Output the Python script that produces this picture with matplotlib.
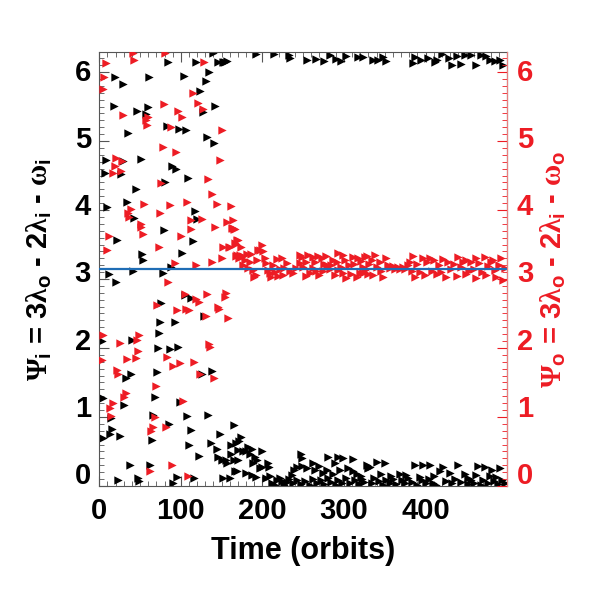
import numpy as np
import matplotlib
matplotlib.use("Agg")
import matplotlib.pyplot as plt
from matplotlib.ticker import MultipleLocator
from matplotlib.transforms import ScaledTranslation

# 字体设置: 数字用无衬线粗体, 希腊字母用衬线体
plt.rcParams['font.family'] = ['Liberation Sans', 'DejaVu Sans']
plt.rcParams['font.weight'] = 'bold'
plt.rcParams['mathtext.fontset'] = 'custom'
plt.rcParams['mathtext.rm'] = 'Liberation Serif'
plt.rcParams['mathtext.sf'] = 'Liberation Sans:bold'
plt.rcParams['mathtext.it'] = 'Liberation Serif:italic'
plt.rcParams['mathtext.bf'] = 'Liberation Sans:bold'

# Psi_i (black) points: (time in orbits, angle)
psi_i_points = np.array([
    (3, 2.10), (4.2, 1.28), (5, 0.70), (7, 4.54), (8.2, 4.72), (10, 4.04), (11.9, 3.07), (12.6, 0.76),
    (14.3, 0.99), (16, 0.82), (17.6, 5.51), (19.2, 5.93), (20.5, 2.95), (22.3, 3.57), (23.4, 0.09),
    (25.4, 0.73), (26.6, 4.52), (28.7, 4.71), (29.5, 5.83), (30.6, 1.17), (32.4, 1.57), (33.6, 4.12),
    (35.5, 5.12), (37.6, 0.31), (38.8, 1.63), (40.3, 2.12), (41, 3.12), (43, 3.88), (44.6, 4.31),
    (45.8, 5.44), (48, 0.11), (49, 0.07), (50.7, 4.74), (52, 3.36), (53, 3.27), (56.8, 5.39), (60, 5.49),
    (61.4, 5.93), (62, 0.31), (64.2, 0.67), (66.4, 1.03), (68.3, 1.29), (70.3, 1.65), (71.6, 2.0),
    (73, 2.22), (74.4, 2.38), (75.6, 2.65), (77.7, 3.09), (79.5, 3.71), (80.5, 4.41), (82.6, 5.22),
    (83.8, 6.14), (85, 0.9), (86.3, 1.98), (88, 3.18), (89.5, 4.64), (90.7, 0.05), (92.8, 2.38),
    (94, 4.6), (95.8, 0.13), (97, 2.02), (98, 5.18), (98.9, 1.21), (101, 3.37), (104, 5.94),
    (104.5, 2.77), (106, 5.16), (107, 1.02), (109, 4.47), (110.4, 0.60), (112, 2.73), (113, 0.81),
    (114.5, 3.55), (116.4, 0.11), (117.8, 3.99), (119, 6.15), (120, 3.87), (122, 0.44), (124, 5.72),
    (125.5, 1.63), (127.5, 5.42), (128.3, 2.47), (130.4, 5.87), (131.6, 5.06), (132.8, 1.03), (135, 6.0),
    (136.5, 0.63), (137.7, 1.66), (139, 6.27), (140.6, 4.97), (141.8, 5.51), (143.9, 0.54), (146, 6.15),
    (146, 0.42), (148, 0.76), (150, 0.38), (151.4, 6.14), (152, 0.12), (152.8, 6.15), (154, 6.15),
    (155, 0.37), (156, 6.16), (157, 0.33), (160, 0.12), (161.4, 0.60), (162, 0.46), (164.6, 0.88),
    (165, 0.37), (166, 0.22), (167.5, 0.63), (169, 0.22), (169.6, 0.37), (169.6, 0.52), (170.7, 0.65),
    (173.3, 0.71), (176.5, 0.50), (179.8, 0.51), (180, 0.19), (182.7, 0.57), (184.7, 0.47), (186.8, 0.53),
    (186.8, 0.16), (188.7, 0.33), (190.8, 0.42), (192, 0.13), (193.7, 0.37), (197, 0.26), (200, 0.51),
    (200, 0.28), (205, 0.11), (207, 0.33), (208.5, 0.28), (209, 0.14), (212, 0.05), (215, 0.02),
    (218, 0.08), (221, 0.12), (224, 0.07), (227, 0.02), (230, 0.06), (233, 0.10), (235.7, 0.16),
    (238.6, 0.23), (241.9, 0.28), (246.8, 0.46), (248, 0.40), (249, 0.29), (255, 0.26), (261.5, 0.33),
    (264, 0.23), (270, 0.29), (274.5, 0.19), (278.7, 0.23), (281, 0.42), (286.8, 0.18), (289, 0.33),
    (293, 0.42), (295, 0.23), (299, 0.40), (305, 0.26), (310.5, 0.39), (311.4, 0.21), (315.5, 0.18),
    (321, 0.15), (327.7, 0.30), (329.7, 0.26), (332, 0.27), (340, 0.35), (346, 0.18), (350, 0.34),
    (358, 0.14), (368.5, 0.17), (376, 0.16), (387, 0.31), (393, 0.13), (397, 0.30), (405, 0.30),
    (411, 0.15), (417.5, 0.22), (421.6, 0.28), (429.8, 0.19), (440, 0.31), (448, 0.17), (452, 0.12),
    (462, 0.16), (464.5, 0.29), (472.7, 0.28), (479, 0.14), (481, 0.23), (487, 0.13), (491, 0.26),
    (238, 0.05), (243, 0.09), (247, 0.03), (252, 0.07), (258, 0.02), (262, 0.10), (267, 0.05),
    (272, 0.08), (276, 0.03), (281, 0.11), (284, 0.06), (290, 0.02), (293, 0.09), (298, 0.05),
    (302, 0.12), (307, 0.04), (313, 0.08), (318, 0.03), (322, 0.10), (325, 0.06), (334, 0.04),
    (337, 0.11), (343, 0.07), (348, 0.02), (352, 0.09), (356, 0.05), (360, 0.10), (364, 0.03),
    (371, 0.08), (375, 0.04), (379, 0.11), (383, 0.06), (389, 0.02), (396, 0.08), (400, 0.04),
    (404, 0.10), (409, 0.05), (413, 0.02), (425, 0.07), (433, 0.04), (436, 0.10), (444, 0.06),
    (452, 0.03), (456, 0.09), (460, 0.05), (468, 0.02), (471, 0.08), (476, 0.04), (484, 0.07),
    (489, 0.03), (494, 0.09), (498, 0.04),
    (192, 6.26), (214, 6.26), (232, 6.25), (234, 6.21), (255, 6.17), (266, 6.19), (276, 6.16),
    (283, 6.24), (290, 6.19), (296, 6.16), (303, 6.23), (317.5, 6.22), (323.6, 6.22), (335, 6.17),
    (342, 6.17), (348, 6.22), (352, 6.16), (385, 6.13), (387, 6.22), (395, 6.17), (403, 6.2),
    (411.4, 6.15), (414, 6.17), (419.6, 6.26), (429, 6.21), (433, 6.1), (439, 6.23), (444, 6.11),
    (449, 6.25), (456, 6.24), (461.6, 6.1), (468.5, 6.24), (474.7, 6.23), (479, 6.17), (485, 6.16),
    (491, 6.17), (495, 6.1),
])

# Psi_o (red) points: (time in orbits, angle)
psi_o_points = np.array([
    (3.7, 1.82), (4.2, 2.19), (5, 5.75), (6.2, 5.93), (8.2, 6.13), (10, 3.42), (11.5, 3.63), (13.1, 1.13),
    (14.3, 1.02), (16.3, 1.20), (17, 4.54), (19, 4.64), (20.5, 4.76), (22.3, 1.68), (23.4, 1.62),
    (25.4, 2.07), (26.6, 4.57), (28, 4.71), (29.5, 5.38), (30.6, 1.29), (32.4, 1.35), (34.4, 1.84),
    (34.8, 3.95), (36.8, 3.90), (38.4, 4.02), (41, 6.27), (43, 6.17), (45, 1.85), (45.8, 2.12),
    (48, 1.96), (49, 2.19), (50.7, 3.79), (51.5, 3.76), (53, 3.65), (55, 4.08), (57, 5.30), (59, 5.23),
    (60, 5.35), (62, 0.22), (63.5, 0.79), (65.7, 0.85), (68.3, 1.0), (69.5, 1.45), (71.3, 2.62),
    (73, 3.47), (74.4, 3.95), (75.6, 4.39), (77.7, 4.91), (79, 5.53), (80.5, 6.27), (81.7, 0.86),
    (83.3, 1.87), (84.8, 2.95), (86.6, 4.07), (88, 5.2), (89.7, 0.30), (90.7, 1.74), (92.4, 3.23),
    (94, 4.84), (95.6, 2.55), (97, 5.44), (98.4, 1.78), (99.8, 3.62), (102, 5.35), (103, 1.23),
    (104.5, 2.78), (106.3, 2.56), (107, 4.11), (109.3, 0.14), (110.3, 2.55), (112, 3.72), (113, 3.86),
    (114.5, 5.7), (116.4, 1.80), (118.5, 2.71), (118.5, 3.2), (121, 5.55), (122.7, 2.66), (123.4, 1.62),
    (125.5, 3.87), (127, 5.46), (128.7, 6.15), (130.8, 2.47), (131.6, 2.78), (133, 4.45), (134.4, 2.06),
    (135.6, 2.01), (137.7, 4.23), (138.6, 3.25), (140.6, 1.57), (142, 3.76), (144, 4.09), (145, 2.6),
    (146.3, 2.57), (148, 4.72), (150, 5.16), (151, 3.31), (152, 3.47), (154, 2.74), (155.3, 2.79),
    (157, 3.82), (158, 2.44), (159, 3.46), (160, 3.46), (161, 4.06), (162.3, 3.74), (163.5, 3.74),
    (164, 3.86), (165, 3.73), (166.3, 3.52), (166, 3.72), (167.5, 3.51), (168, 3.33), (168.3, 3.57),
    (169.2, 3.35), (170.5, 3.56), (171.6, 3.30), (172.7, 3.35), (173.4, 3.46), (175.7, 3.33),
    (176.5, 3.20), (178.6, 3.28), (180.6, 3.36), (182.6, 3.16), (184.7, 3.24), (185.7, 3.36),
    (188.8, 3.13), (190, 3.03), (192, 3.06), (192.9, 3.28), (195, 3.42), (197, 3.42), (199, 3.49),
    (201, 3.40), (203, 3.30), (205, 3.23), (207, 3.13), (209, 3.08), (211, 3.03), (212.5, 3.20),
    (215, 3.10), (217.4, 3.29), (219, 3.05), (221, 3.15), (223.5, 3.30), (225, 3.06), (227, 3.16),
    (229.6, 3.23), (233.7, 3.12), (237.8, 3.08), (241, 3.16), (246, 3.23), (246, 3.35), (248, 3.32),
    (250, 3.18), (253, 3.25), (254, 3.04), (256.5, 3.35), (258, 3.09), (261.5, 3.32), (262, 3.16),
    (264, 3.24), (266, 3.11), (268.5, 3.33), (270, 3.06), (272.5, 3.30), (274.5, 3.12), (276, 3.22),
    (278, 3.33), (278.7, 3.20), (282.7, 3.14), (284, 3.20), (286.8, 3.28), (289, 3.06), (291, 3.24),
    (293, 3.38), (293, 3.13), (296, 3.18), (299, 3.35), (299, 3.08), (301, 3.27), (303, 3.02),
    (306, 3.20), (309, 3.07), (310.5, 3.32), (312, 3.22), (315.5, 3.03), (317.5, 3.30), (319.5, 3.09),
    (321, 3.26), (323, 3.18), (323.8, 3.08), (325.6, 3.13), (325.6, 3.32), (327.7, 3.33), (329.7, 3.07),
    (331, 3.22), (334, 3.27), (336, 3.06), (338, 3.35), (341, 3.18), (344, 3.24), (346, 3.12),
    (348, 3.03), (351.4, 3.31), (354, 3.20), (357, 3.16), (360, 3.19), (363, 3.14), (366, 3.17),
    (369, 3.15), (372, 3.18), (375, 3.14), (378, 3.20), (381, 3.24), (383, 3.12), (385, 3.33),
    (387, 3.03), (390, 3.22), (393, 3.10), (397, 3.30), (399, 3.06), (402, 3.24), (405.3, 3.31),
    (408, 3.12), (410, 3.27), (413.5, 3.07), (416, 3.21), (419, 3.10), (421.6, 3.29), (425.7, 3.03),
    (428, 3.25), (431, 3.14), (435, 3.22), (438, 3.04), (440, 3.32), (443, 3.17), (446, 3.25),
    (450, 3.28), (450, 3.07), (453, 3.12), (456, 3.24), (459, 3.15), (462.3, 3.31), (462.3, 3.02),
    (466, 3.23), (469, 3.10), (472.7, 3.32), (474.7, 3.06), (477, 3.19), (480, 3.25), (482.8, 3.28),
    (485, 3.13), (487, 3.03), (490, 3.21), (493, 3.30), (495, 2.99), (497, 3.16),
])

x_ticks = [0, 100, 200, 300, 400]
y_ticks = [0, 1, 2, 3, 4, 5, 6]
red = '#ED1C24'
blue = '#1F6DB5'

fig = plt.figure(figsize=(5.91, 5.91), dpi=100)
ax = fig.add_axes([0.168, 0.1777, 0.690, 0.7335])
ax2 = ax.twinx()

# 绘制散点
ax.scatter(psi_i_points[:, 0], psi_i_points[:, 1], marker='>', s=36, color='black', linewidths=0, zorder=2)
ax.scatter(psi_o_points[:, 0], psi_o_points[:, 1], marker='>', s=36, color=red, linewidths=0, zorder=3)
ax.axhline(np.pi, color=blue, linewidth=1.6, zorder=4)

for a in (ax, ax2):
    a.set_xlim(0, 500)
    a.set_ylim(0, 2 * np.pi)
    a.yaxis.set_minor_locator(MultipleLocator(0.1))

ax.set_xticks(x_ticks)
ax.xaxis.set_minor_locator(MultipleLocator(10))
ax.set_yticks(y_ticks)
ax2.set_yticks(y_ticks)

ax.tick_params(axis='both', which='major', direction='in', length=7, width=0.8, labelsize=21, pad=8, top=True)
ax.tick_params(axis='both', which='minor', direction='in', length=3.5, width=0.6, top=True)
ax.tick_params(axis='y', which='both', right=False, color='#555555', pad=6)
ax.tick_params(axis='x', which='both', color='#555555')
ax2.tick_params(axis='y', which='major', direction='in', length=7, width=0.8, labelsize=21, pad=7,
                colors=red)
ax2.tick_params(axis='y', which='minor', direction='in', length=3.5, width=0.6, colors=red)

for name in ('left', 'top', 'bottom'):
    ax.spines[name].set_color('#555555')
    ax2.spines[name].set_visible(False)
ax2.spines['right'].set_color('#E88080')

# 刻度数字整体略微上移 (与原图对齐)
for tick_list in (ax.yaxis.get_major_ticks(), ax2.yaxis.get_major_ticks()):
    for value, tick in zip(y_ticks, tick_list):
        dy = (2 + (6 - value) * 11 / 6) * 72 / fig.dpi / 72
        for label in (tick.label1, tick.label2):
            label.set_transform(label.get_transform() + ScaledTranslation(0, dy, fig.dpi_scale_trans))

# 坐标轴标题
psi_i_label = r'$\mathrm{\Psi}_\mathsf{i}$ = 3$\mathrm{\lambda}_\mathsf{o}$ - 2$\mathrm{\lambda}_\mathsf{i}$ - $\mathrm{\omega}_\mathsf{i}$'
psi_o_label = r'$\mathrm{\Psi}_\mathsf{o}$ = 3$\mathrm{\lambda}_\mathsf{o}$ - 2$\mathrm{\lambda}_\mathsf{i}$ - $\mathrm{\omega}_\mathsf{o}$'
ax.set_xlabel('Time (orbits)', fontsize=22, fontweight='bold', labelpad=8)
ax.set_ylabel(psi_i_label, fontsize=21, fontweight='bold')
ax.yaxis.set_label_coords(-0.11, 0.5)
ax2.set_ylabel(psi_o_label, fontsize=21, fontweight='bold', color=red, rotation=90)
ax2.yaxis.set_label_coords(1.078, 0.5)

plt.savefig('out.png', dpi=100)
